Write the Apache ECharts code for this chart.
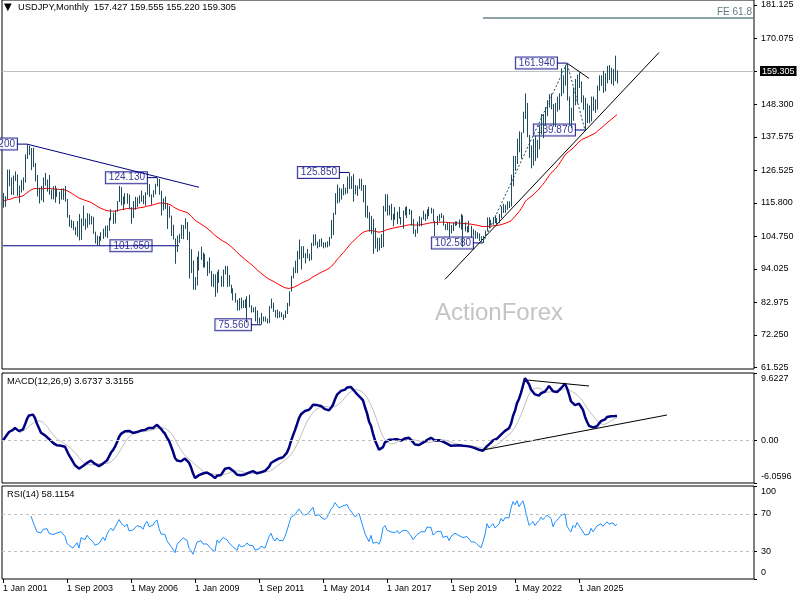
<!DOCTYPE html>
<html lang="en">
<head>
<meta charset="UTF-8">
<title>USDJPY Monthly</title>
<script src="https://cdn.jsdelivr.net/npm/echarts@6/dist/echarts.min.js"></script>
<style>html,body{margin:0;padding:0;background:#fff;}</style>
</head>
<body>
<div id="main" style="width:800px;height:600px;"></div>
<script type="text/javascript">
// monthly bars, Jan 2001 onwards
var firstYear = 2001;
var slotCount = 376;
var monthNames = ['Jan','Feb','Mar','Apr','May','Jun','Jul','Aug','Sep','Oct','Nov','Dec'];

var highs = [
    119.1,118.0,126.8,126.8,124.2,124.8,126.2,125.2,121.5,123.4,124.2,131.8,
    135.2,134.7,133.9,134.0,129.0,125.0,120.8,121.4,124.2,125.7,123.5,125.0,
    120.2,121.3,121.5,120.6,119.5,120.5,120.6,121.4,117.1,111.8,110.2,109.8,
    107.9,109.8,112.1,110.7,114.9,110.6,112.4,112.2,111.5,111.2,106.3,105.0,
    104.8,106.1,107.3,108.2,108.4,110.9,113.7,112.6,113.5,116.4,121.4,121.0,
    117.9,119.0,119.0,118.6,114.4,116.4,117.8,117.6,118.3,119.9,118.3,119.3,
    122.2,122.0,118.6,120.0,122.1,124.13,123.7,119.8,117.3,117.9,115.7,114.7,
    111.6,108.6,104.1,105.0,105.6,108.6,108.5,110.7,109.5,106.3,100.5,96.8,
    91.3,98.0,99.8,101.4,99.4,98.9,96.5,97.8,93.3,92.3,92.2,93.1,
    93.8,91.6,93.8,95.0,94.9,92.0,88.8,87.6,86.0,83.8,84.4,84.5,
    83.7,84.0,85.0,85.5,82.0,81.3,81.5,80.3,77.9,79.5,78.3,78.3,
    77.6,81.7,84.2,82.9,80.4,80.6,80.0,79.7,78.9,80.3,82.8,86.6,
    91.7,94.5,96.7,99.9,103.7,101.5,101.5,99.2,100.6,99.0,102.6,105.4,
    105.4,103.0,103.8,104.1,102.8,102.8,103.1,104.5,110.1,112.5,119.0,121.85,
    120.8,120.5,122.0,120.8,124.5,125.85,124.6,125.3,121.7,121.5,123.8,123.7,
    121.7,121.7,114.9,112.7,111.5,110.5,107.5,104.3,104.3,105.5,114.8,118.7,
    118.6,115.0,115.5,112.2,114.4,112.9,114.5,111.1,113.3,114.4,114.7,113.8,
    113.4,110.5,107.0,109.6,111.4,111.0,113.2,112.2,113.7,114.5,114.2,113.8,
    109.9,111.5,112.1,112.4,111.7,108.8,109.3,109.3,108.5,109.3,109.7,109.7,
    110.3,112.2,111.7,109.4,108.1,109.9,108.2,107.1,106.6,106.1,105.7,104.8,
    104.9,106.7,111.0,111.0,110.2,111.1,111.7,110.8,112.1,114.7,115.5,115.2,
    116.35,116.3,125.1,131.3,131.3,137.0,139.4,139.1,145.9,151.95,148.8,138.2,
    134.8,136.9,137.9,136.6,140.9,145.1,145.1,147.4,149.7,151.7,151.9,148.4,
    148.8,150.9,151.97,160.2,157.9,161.3,161.94,150.9,147.2,153.9,156.7,158.1,
    158.9,155.9,151.3,150.5,148.6,148.0,150.9,150.9,150.0,154.5,157.9,157.9,
    159.4,158.6,161.0,161.3,160.4,160.0,164.4,159.555
];
var lows = [
    114.2,114.5,116.9,121.3,118.5,118.4,123.0,118.1,115.8,119.2,119.9,122.5,
    130.3,131.6,126.6,127.6,122.9,117.9,115.6,116.6,116.0,121.5,119.5,118.5,
    117.0,116.9,115.9,117.8,115.4,116.9,116.8,116.2,110.9,107.9,107.5,106.8,
    105.2,104.6,103.4,103.6,108.2,106.9,107.6,108.6,108.7,105.6,102.4,101.8,
    101.65,103.3,103.9,104.6,104.2,106.6,110.0,108.8,109.0,112.9,116.1,115.0,
    113.4,115.3,115.5,113.8,108.9,110.8,113.5,114.4,115.5,116.2,115.4,114.9,
    118.5,117.8,115.2,117.6,118.6,121.2,118.5,111.6,113.3,113.8,107.2,110.9,
    104.9,103.7,95.7,99.6,102.6,103.9,103.8,107.2,103.5,90.9,92.6,87.1,
    87.1,88.5,93.5,96.9,94.4,94.5,91.7,92.6,88.2,88.0,84.8,86.1,
    89.4,88.1,88.1,92.2,88.0,88.2,85.9,83.6,82.9,80.2,80.3,80.9,
    81.1,81.1,76.3,81.3,79.6,79.7,76.7,75.9,75.9,75.56,76.6,76.6,
    76.0,76.1,80.9,79.8,78.0,77.7,77.9,78.1,77.1,77.8,79.1,81.7,
    86.5,90.9,92.6,92.6,97.2,93.8,97.6,95.8,97.5,96.6,96.9,101.6,
    101.8,100.8,101.2,101.4,100.8,101.1,101.1,101.5,104.0,105.2,111.9,115.6,
    115.9,116.9,118.3,118.6,118.9,120.4,120.4,116.2,118.6,118.1,120.4,119.8,
    116.0,111.0,110.7,106.3,105.5,99.0,100.7,99.6,100.1,100.9,101.2,112.9,
    111.6,111.7,110.1,108.1,110.2,108.8,110.6,108.6,107.3,111.7,110.8,111.9,
    108.3,105.6,104.6,105.7,108.1,108.1,110.3,109.8,110.4,111.4,112.3,109.6,
    104.9,108.5,109.7,110.8,108.3,106.8,106.8,104.5,105.7,106.5,108.2,108.4,
    107.6,107.0,101.2,106.4,106.0,106.1,104.2,104.9,104.0,104.0,103.2,102.9,
    102.58,104.4,106.4,107.5,108.3,108.6,109.1,108.7,109.1,110.8,112.5,112.5,
    113.5,114.1,114.6,121.3,126.4,128.6,132.5,130.4,138.8,143.5,137.5,130.6,
    127.2,128.1,129.6,130.6,133.5,138.4,137.2,141.5,144.4,147.3,146.7,141.0,
    140.8,145.9,146.5,151.0,151.9,154.5,149.6,141.7,140.5,142.9,148.0,148.6,
    153.7,148.9,146.5,139.87,142.1,142.1,142.7,146.2,145.5,146.6,152.8,154.4,
    152.1,152.6,155.3,156.4,155.0,154.5,156.0,155.22
];
var closes = [
    116.4,117.4,126.0,123.6,119.0,124.6,124.8,118.9,119.3,122.4,123.9,131.0,
    134.7,133.6,132.7,128.4,124.1,119.5,119.8,118.4,121.8,122.5,122.5,118.7,
    119.9,117.9,118.1,118.9,119.3,119.8,120.5,116.9,111.5,109.6,109.6,107.2,
    105.8,109.1,104.2,110.4,109.6,108.8,111.6,109.5,110.2,105.9,103.0,102.6,
    103.7,104.6,107.1,104.7,108.3,110.9,112.5,111.0,113.4,116.4,119.8,117.8,
    117.2,115.9,117.7,113.8,112.6,114.4,114.6,117.3,118.1,116.9,115.7,119.0,
    121.0,118.4,117.8,119.5,121.7,123.2,119.0,115.8,114.9,115.4,111.1,111.7,
    106.4,103.7,99.7,104.0,105.5,106.2,108.0,108.8,106.0,98.5,95.4,90.7,
    89.9,97.6,98.9,98.6,95.3,96.4,94.7,93.0,89.7,90.0,86.2,93.0,
    90.3,88.9,93.5,94.0,91.3,88.4,86.5,84.2,83.5,80.4,83.7,81.1,
    82.1,81.8,83.1,81.2,81.5,80.6,76.7,76.6,77.1,78.2,77.6,76.9,
    76.2,81.2,82.9,80.0,78.3,79.8,78.1,78.4,77.9,79.8,82.5,86.7,
    91.7,92.5,94.2,97.4,100.4,99.2,97.9,98.2,98.3,98.4,102.4,105.3,
    102.0,101.8,103.2,102.2,101.8,101.3,102.8,104.1,109.6,112.3,118.6,119.8,
    117.5,119.6,120.1,119.4,124.1,122.5,123.9,121.2,119.9,120.6,123.1,120.2,
    121.1,112.7,112.6,106.5,110.7,103.2,102.1,103.4,101.3,104.8,114.5,116.9,
    112.8,112.8,111.4,111.5,110.8,112.4,110.3,110.0,112.5,113.6,112.5,112.7,
    109.2,106.7,106.3,109.3,108.8,110.8,111.9,111.0,113.7,112.9,113.6,109.7,
    108.9,111.4,110.9,111.4,108.3,107.9,108.8,106.3,108.1,108.0,109.5,108.6,
    108.4,107.9,107.5,107.2,107.8,107.9,105.8,105.9,105.5,104.7,104.3,103.3,
    104.7,106.6,110.7,109.3,109.6,111.1,109.7,110.0,111.3,114.0,113.2,115.1,
    115.1,115.0,121.7,129.8,128.7,135.7,133.2,138.9,144.7,148.7,138.1,131.1,
    130.1,136.2,132.8,136.3,139.3,144.3,142.3,145.5,149.4,151.7,148.2,141.0,
    146.9,150.0,151.4,157.8,157.3,160.9,150.0,146.2,143.6,152.0,149.8,157.2,
    155.2,150.6,149.9,143.1,144.0,144.0,150.7,147.0,147.9,154.0,156.1,156.7,
    154.5,156.5,159.8,158.0,157.5,159.6,157.4,159.305
];

var headerText = 'USDJPY,Monthly  157.427 159.555 155.220 159.305';
var macdText = 'MACD(12,26,9) 3.6737 3.3155';
var rsiText = 'RSI(14) 58.1154';
var bidPrice = 159.305;

// right-hand scale labels
var priceLabels = [61.525, 72.250, 82.975, 94.025, 104.750, 115.800, 126.525, 137.575, 148.300, 170.075, 181.125];
var priceMin = 60.964, priceMax = 182.776;
var macdMin = -6.0596, macdMax = 9.6227;
var macdLabels = [-6.0596, 0, 9.6227];
var rsiLabels = [0, 30, 70, 100];

// drawn objects: [bar index, price]
var priceTags = [
    [12, 135.20], [77, 124.13], [129, 75.56], [173, 125.85],
    [240, 102.58], [282, 161.94], [291, 139.87]
];
var supportLevel = { from: 0, to: 88, price: 101.65, tagAt: 64 };
var feLevel = { from: 240, to: 375, price: 176.83, text: 'FE 61.8' };
var downTrend = [[12, 135.2], [98, 120.95]];
var upTrend = [[221, 90.57], [328, 165.43]];
var peakLine = [[282, 161.94], [293, 156.9]];
var wavePath = [[240, 102.58], [282, 161.94], [291, 139.87]];
var macdLowTrend = [[240, -1.355], [332, 3.635]];
var macdHighTrend = [[262, 8.62], [293, 7.77]];

var FONT = '"Liberation Sans", Arial, sans-serif';
var barColor = '#1f4d5e';
var TAG_GAP = 5;

var categories = [];
for (var i = 0; i < slotCount; i++) {
    categories.push('1 ' + monthNames[i % 12] + ' ' + (firstYear + Math.floor(i / 12)));
}

function ema(src, n) {
    var k = 2 / (n + 1), out = [src[0]];
    for (var i = 1; i < src.length; i++) out.push(out[i - 1] + k * (src[i] - out[i - 1]));
    return out;
}
function sma(src, n) {
    var out = [];
    for (var i = 0; i < src.length; i++) {
        if (i < n - 1) { out.push(null); continue; }
        var s = 0;
        for (var j = i - n + 1; j <= i; j++) s += src[j];
        out.push(s / n);
    }
    return out;
}
function rsi(src, n) {
    var out = [null], g = 0, l = 0;
    for (var i = 1; i < src.length; i++) {
        var d = src[i] - src[i - 1], up = d > 0 ? d : 0, dn = d < 0 ? -d : 0;
        if (i <= n) {
            g += up; l += dn;
            if (i < n) { out.push(null); continue; }
            g /= n; l /= n;
        } else {
            g = (g * (n - 1) + up) / n;
            l = (l * (n - 1) + dn) / n;
        }
        out.push(l === 0 ? 100 : 100 - 100 / (1 + g / l));
    }
    return out;
}

var ema55 = ema(closes, 55);
var fast = ema(closes, 12), slow = ema(closes, 26);
var macd = closes.map(function (c, i) { return fast[i] - slow[i]; });
var signal = sma(macd, 9);
var rsi14 = rsi(closes, 14);

var barData = highs.map(function (h, i) { return [i, lows[i], h]; });

function segment(pts, color, gi, type, z) {
    return {
        type: 'line', xAxisIndex: gi, yAxisIndex: gi, data: pts,
        symbol: 'none', silent: true, z: z || 4,
        lineStyle: { color: color, width: 1, type: type || 'solid' }
    };
}

var tagStyle = {
    show: true, position: 'left', distance: 0,
    backgroundColor: '#fff', borderColor: '#000080', borderWidth: 1,
    padding: [1, 2, 0, 3], color: '#00007a', fontSize: 10, fontFamily: FONT,
    formatter: function (p) { return p.data[1].toFixed(3); }
};

var series = [
    {
        type: 'custom', name: 'bars', xAxisIndex: 0, yAxisIndex: 0, z: 5,
        data: barData,
        encode: { x: 0, y: [1, 2] },
        renderItem: function (params, api) {
            var lo = api.coord([api.value(0), api.value(1)]);
            var hi = api.coord([api.value(0), api.value(2)]);
            var x = Math.floor(lo[0]) + 0.5;
            return { type: 'line', shape: { x1: x, y1: lo[1], x2: x, y2: hi[1] },
                     style: { stroke: barColor, lineWidth: 1 } };
        },
        markLine: {
            silent: true, symbol: 'none', z: 1,
            lineStyle: { color: '#c0c0c0', width: 1, type: 'solid' },
            label: { position: 'end', distance: 6, formatter: bidPrice.toFixed(3),
                     backgroundColor: '#000', color: '#fff', padding: [1, 2, 0, 2],
                     fontSize: 9, fontFamily: FONT },
            data: [{ yAxis: bidPrice }]
        }
    },
    { type: 'line', xAxisIndex: 0, yAxisIndex: 0, data: ema55, symbol: 'none', silent: true, z: 4,
      lineStyle: { color: '#ff0000', width: 1 } },
    segment(downTrend, '#000080', 0),
    segment([[supportLevel.from, supportLevel.price], [supportLevel.to, supportLevel.price]], '#000080', 0),
    segment(upTrend, '#000000', 0),
    segment(peakLine, '#000000', 0),
    segment(wavePath, '#1f4d4f', 0, [2, 2]),
    segment([[feLevel.from, feLevel.price], [feLevel.to, feLevel.price]], '#1f4a4a', 0)
];

// price tags with a short leader to the bar
priceTags.forEach(function (t) {
    series.push(segment([[t[0] - TAG_GAP, t[1]], [t[0], t[1]]], '#000080', 0, 'solid', 3));
});
series.push({
    type: 'scatter', xAxisIndex: 0, yAxisIndex: 0, symbolSize: 0, silent: true, z: 3,
    data: priceTags.map(function (t) { return [t[0] - TAG_GAP, t[1]]; }),
    label: tagStyle
});
series.push({
    type: 'scatter', xAxisIndex: 0, yAxisIndex: 0, symbolSize: 0, silent: true, z: 3,
    data: [[supportLevel.tagAt, supportLevel.price]],
    label: Object.assign({}, tagStyle, { position: 'inside' })
});
series.push({
    type: 'scatter', xAxisIndex: 0, yAxisIndex: 0, symbolSize: 0, silent: true, z: 3,
    data: [[feLevel.to, feLevel.price]],
    label: { show: true, position: 'left', distance: 1, offset: [0, -6], color: '#3a5a5a',
             fontSize: 10, fontFamily: FONT, formatter: feLevel.text }
});

// MACD panel
series.push({
    type: 'line', xAxisIndex: 1, yAxisIndex: 1, data: signal, symbol: 'none', silent: true, z: 3,
    lineStyle: { color: '#c0c0c0', width: 1 },
    markLine: { silent: true, symbol: 'none', label: { show: false },
                lineStyle: { color: '#c0c0c0', width: 1, type: [3, 3] }, data: [{ yAxis: 0 }] }
});
series.push({ type: 'line', xAxisIndex: 1, yAxisIndex: 1, data: macd, symbol: 'none', silent: true, z: 4,
              lineStyle: { color: '#000080', width: 2.5 } });
series.push(segment(macdLowTrend, '#000000', 1));
series.push(segment(macdHighTrend, '#000000', 1));

// RSI panel
series.push({
    type: 'line', xAxisIndex: 2, yAxisIndex: 2, data: rsi14, symbol: 'none', silent: true, z: 4,
    lineStyle: { color: '#1e90ff', width: 1 },
    markLine: { silent: true, symbol: 'none', label: { show: false },
                lineStyle: { color: '#c0c0c0', width: 1, type: [3, 3] },
                data: [{ yAxis: 70 }, { yAxis: 30 }] }
});

function edgeFormatter(min, max, digits) {
    return function (v) {
        var s = v === 0 ? (digits ? '0.00' : '0') : v.toFixed(digits);
        if (v === max) return '{t|' + s + '}';
        if (v === min) return '{b|' + s + '}';
        return s;
    };
}
var edgeRich = {
    t: { padding: [11, 0, 0, 0], fontSize: 9, color: '#000', fontFamily: FONT },
    b: { padding: [0, 0, 13, 0], fontSize: 9, color: '#000', fontFamily: FONT }
};
function hasBar(index) { return index % 32 === 0 && index < closes.length; }

var gridBase = { left: 2, right: 46, show: true, borderColor: '#000', borderWidth: 1 };
var xBase = { type: 'category', data: categories, boundaryGap: true,
              axisLine: { show: false }, splitLine: { show: false } };
var yBase = { type: 'value', position: 'right', scale: false,
              axisLine: { show: false }, splitLine: { show: false },
              axisTick: { show: true, length: 3, lineStyle: { color: '#000' } } };

var option = {
    animation: false,
    backgroundColor: '#fff',
    textStyle: { fontFamily: FONT },
    title: [
        { text: '\u25BC', left: 4, top: 2, padding: 0, textStyle: { fontSize: 10, color: '#000', fontWeight: 'normal', fontFamily: 'DejaVu Sans' } },
        { text: headerText, left: 18, top: 3, padding: 0, textStyle: { fontSize: 9.3, color: '#000', fontWeight: 'normal', fontFamily: FONT } },
        { text: macdText, left: 7, top: 377, padding: 0, textStyle: { fontSize: 9.3, color: '#000', fontWeight: 'normal', fontFamily: FONT } },
        { text: rsiText, left: 7, top: 490, padding: 0, textStyle: { fontSize: 9.3, color: '#000', fontWeight: 'normal', fontFamily: FONT } }
    ],
    graphic: [
        { type: 'text', left: 435, top: 301, silent: true, z: 0,
          style: { text: 'ActionForex', fill: '#c4c4c4', fontSize: 24, fontFamily: FONT } }
    ],
    grid: [
        Object.assign({ top: 0, height: 369 }, gridBase),
        Object.assign({ top: 373, height: 110 }, gridBase),
        Object.assign({ top: 486, height: 93 }, gridBase)
    ],
    xAxis: [
        Object.assign({ gridIndex: 0, axisTick: { show: false }, axisLabel: { show: false } }, xBase),
        Object.assign({ gridIndex: 1, axisTick: { show: false }, axisLabel: { show: false } }, xBase),
        Object.assign({
            gridIndex: 2,
            axisTick: { show: true, interval: hasBar, alignWithLabel: true, length: 4, lineStyle: { color: '#000' } },
            axisLabel: { show: true, interval: hasBar, align: 'left', margin: 5, fontSize: 9, color: '#000', fontFamily: FONT }
        }, xBase)
    ],
    yAxis: [
        Object.assign({}, yBase, {
            gridIndex: 0, min: priceMin, max: priceMax,
            axisTick: { show: true, length: 3, lineStyle: { color: '#000' }, customValues: priceLabels.concat([bidPrice]) },
            axisLabel: { customValues: priceLabels, margin: 7, fontSize: 9, color: '#000', fontFamily: FONT,
                         formatter: function (v) { return v.toFixed(3); } }
        }),
        Object.assign({}, yBase, {
            gridIndex: 1, min: macdMin, max: macdMax,
            axisTick: { show: true, length: 3, lineStyle: { color: '#000' }, customValues: macdLabels },
            axisLabel: { customValues: macdLabels, margin: 7, fontSize: 9, color: '#000', fontFamily: FONT,
                         formatter: edgeFormatter(macdMin, macdMax, 4), rich: edgeRich }
        }),
        Object.assign({}, yBase, {
            gridIndex: 2, min: 0, max: 100,
            axisTick: { show: true, length: 3, lineStyle: { color: '#000' }, customValues: rsiLabels },
            axisLabel: { customValues: rsiLabels, margin: 7, fontSize: 9, color: '#000', fontFamily: FONT,
                         formatter: edgeFormatter(0, 100, 0), rich: edgeRich }
        })
    ],
    series: series
};

var myChart = echarts.init(document.getElementById('main'));
myChart.setOption(option);
</script>
</body>
</html>
